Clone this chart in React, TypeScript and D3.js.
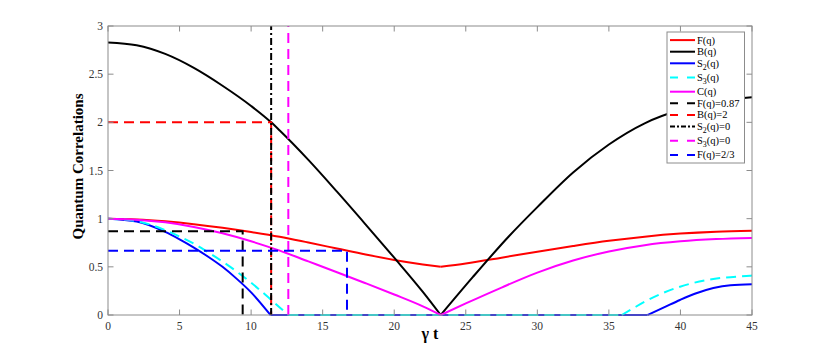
import React from 'react';
import * as d3 from 'd3';

const W = 830;
const H = 354;

const xTicks = [0, 5, 10, 15, 20, 25, 30, 35, 40, 45];
const yTicks = [0, 0.5, 1, 1.5, 2, 2.5, 3];

// F(q)
const fT = [0, 2, 4, 6, 8, 10, 12, 14, 16, 18, 20, 22, 23.25, 25, 27.5, 30, 32.5, 35, 37.5, 40, 42.5, 45];
const fV = [1, 0.992, 0.972, 0.943, 0.906, 0.862, 0.812, 0.752, 0.69, 0.628, 0.572, 0.525, 0.5, 0.535, 0.595, 0.657, 0.716, 0.77, 0.813, 0.845, 0.865, 0.875];
// B(q)
const bT = [0, 2, 4, 6, 8, 10, 11.4, 12, 14, 16, 18, 20, 22, 23.25, 25.5, 28, 30, 32.5, 35, 37.5, 40, 42.5, 45];
const bV = [2.83, 2.8, 2.71, 2.565, 2.38, 2.17, 2.0, 1.915, 1.61, 1.28, 0.94, 0.595, 0.24, 0, 0.395, 0.815, 1.12, 1.48, 1.77, 1.99, 2.13, 2.215, 2.26];
// S2(q)
const s2T = [0, 2, 4, 5, 6, 7, 8, 9, 10, 11.35, 37.7, 39, 39.97, 41, 42.3, 43.5, 45];
const s2V = [1, 0.97, 0.862, 0.785, 0.7, 0.605, 0.5, 0.375, 0.235, 0, 0, 0.09, 0.156, 0.22, 0.28, 0.31, 0.32];
// S3(q)
const s3T = [0, 2, 4, 5, 6, 7, 8, 9, 10, 11, 12, 12.6, 35.9, 36.7, 37.64, 39.97, 42.3, 44.86, 45];
const s3V = [1, 0.975, 0.88, 0.815, 0.74, 0.65, 0.555, 0.45, 0.335, 0.21, 0.078, 0, 0, 0.07, 0.149, 0.294, 0.374, 0.408, 0.41];
// C(q)
const cT = [0, 2, 4, 6, 8, 10, 12, 14, 16, 18, 20, 22, 23.25, 25, 27.5, 30, 32.5, 35, 37.5, 40, 42.5, 45];
const cV = [1, 0.99, 0.962, 0.914, 0.848, 0.765, 0.668, 0.556, 0.444, 0.33, 0.213, 0.09, 0, 0.12, 0.285, 0.44, 0.565, 0.66, 0.725, 0.765, 0.788, 0.8];

// reference lines
const refF87T = [0, 9.41, 9.41];
const refF87V = [0.87, 0.87, 0];
const refB2T = [0, 11.4, 11.4];
const refB2V = [2, 2, 0];
const refS2T = [11.4, 11.4];
const refS2V = [0, 3];
const refS3T = [12.6, 12.6];
const refS3V = [0, 3];
const refF23T = [0, 16.7, 16.7];
const refF23V = [2 / 3, 2 / 3, 0];

const DASH = '10,6';
const DASHDOT = '7,3,2,3';

const series = [
  { label: 'F(q)', t: fT, v: fV, kinks: [23.25], color: '#ff0000', dash: null, curve: true },
  { label: 'B(q)', t: bT, v: bV, kinks: [23.25], color: '#000000', dash: null, curve: true },
  { label: 'S|2|(q)', t: s2T, v: s2V, kinks: [11.35, 37.7], color: '#0000ff', dash: null, curve: true },
  { label: 'S|3|(q)', t: s3T, v: s3V, kinks: [12.6, 35.9], color: '#00ffff', dash: DASH, curve: true },
  { label: 'C(q)', t: cT, v: cV, kinks: [23.25], color: '#ff00ff', dash: null, curve: true },
  { label: 'F(q)=0.87', t: refF87T, v: refF87V, kinks: [], color: '#000000', dash: DASH, curve: false },
  { label: 'B(q)=2', t: refB2T, v: refB2V, kinks: [], color: '#ff0000', dash: DASH, curve: false },
  { label: 'S|2|(q)=0', t: refS2T, v: refS2V, kinks: [], color: '#000000', dash: DASHDOT, curve: false },
  { label: 'S|3|(q)=0', t: refS3T, v: refS3V, kinks: [], color: '#ff00ff', dash: DASH, curve: false },
  { label: 'F(q)=2/3', t: refF23T, v: refF23V, kinks: [], color: '#0000ff', dash: DASH, curve: false },
];

function splitAt(t: number[], v: number[], kinks: number[]) {
  const segs: [number, number][][] = [];
  let cur: [number, number][] = [];
  t.forEach((tt, i) => {
    cur.push([tt, v[i]]);
    if (kinks.includes(tt) && i > 0 && i < t.length - 1) {
      segs.push(cur);
      cur = [[tt, v[i]]];
    }
  });
  segs.push(cur);
  return segs;
}

function Label({ text, x, y, size }: { text: string; x: number; y: number; size: number }) {
  const parts = text.split('|');
  return (
    <text x={x} y={y} fontSize={size} fontFamily="Liberation Serif, Times New Roman, serif" fill="#000">
      {parts.map((p, i) =>
        i % 2 === 1 ? (
          <tspan key={i} fontSize={size * 0.75} dy={3}>{p}</tspan>
        ) : (
          <tspan key={i} dy={i > 0 ? -3 : 0}>{p}</tspan>
        )
      )}
    </text>
  );
}

export default function App() {
  const x = d3.scaleLinear().domain([0, 45]).range([108, 752]);
  const y = d3.scaleLinear().domain([0, 3]).range([315, 26]);
  const axisColor = '#8c8c8c';
  const tickColor = '#333';
  const font = 'Liberation Serif, Times New Roman, serif';

  const line = (smooth: boolean) =>
    d3
      .line<[number, number]>()
      .x((d) => x(d[0]))
      .y((d) => y(d[1]))
      .curve(smooth ? d3.curveMonotoneX : d3.curveLinear);

  const [x0, x1] = x.range();
  const [y0, y1] = y.range();
  const tl = 5.5;

  // legend layout
  const lgX = 667;
  const lgY = 32;
  const lgW = 77.5;
  const rowH = series.map((s) => (s.label.includes('|') ? 14.2 : 11.6));
  const lgH = d3.sum(rowH) + 4.6;
  const rowY = rowH.map((h, i) => lgY + 2.3 + d3.sum(rowH.slice(0, i)) + h / 2 - (h > 12 ? 1.3 : 0));

  return (
    <svg width={W} height={H} style={{ position: 'absolute', left: 0, top: 0, background: '#fff' }}>
      <rect x={x0} y={y1} width={x1 - x0} height={y0 - y1} fill="#fff" stroke="none" />

      {/* data */}
      {series.map((s, i) =>
        splitAt(s.t, s.v, s.kinks).map((seg, j) => (
          <path
            key={`${i}-${j}`}
            d={line(s.curve)(seg) || ''}
            fill="none"
            stroke={s.color}
            strokeWidth={2}
            strokeDasharray={s.dash || undefined}
          />
        ))
      )}

      {/* box & ticks */}
      <rect x={x0} y={y1} width={x1 - x0} height={y0 - y1} fill="none" stroke={axisColor} strokeWidth={1} />
      {xTicks.map((t) => (
        <g key={`xt${t}`}>
          <line x1={x(t)} x2={x(t)} y1={y0} y2={y0 - tl} stroke={axisColor} />
          <line x1={x(t)} x2={x(t)} y1={y1} y2={y1 + tl} stroke={axisColor} />
          <text x={x(t)} y={y0 + 15} textAnchor="middle" fontSize={11.5} fontFamily={font} fill={tickColor}>
            {t}
          </text>
        </g>
      ))}
      {yTicks.map((t) => (
        <g key={`yt${t}`}>
          <line x1={x0} x2={x0 + tl} y1={y(t)} y2={y(t)} stroke={axisColor} />
          <line x1={x1} x2={x1 - tl} y1={y(t)} y2={y(t)} stroke={axisColor} />
          <text x={x0 - 5} y={y(t) + 4} textAnchor="end" fontSize={11.5} fontFamily={font} fill={tickColor}>
            {t}
          </text>
        </g>
      ))}

      {/* axis labels */}
      <text x={(x0 + x1) / 2} y={339} textAnchor="middle" fontSize={16} fontWeight="bold" fontFamily={font}>
        γ t
      </text>
      <text
        transform={`translate(83, ${(y0 + y1) / 2 - 4}) rotate(-90)`}
        textAnchor="middle"
        fontSize={15}
        fontWeight="bold"
        fontFamily={font}
      >
        Quantum Correlations
      </text>

      {/* legend */}
      <rect x={lgX} y={lgY} width={lgW} height={lgH} fill="#fff" stroke={axisColor} strokeWidth={1} />
      {series.map((s, i) => (
        <g key={`lg${i}`}>
          <line
            x1={lgX + 3}
            x2={lgX + 28}
            y1={rowY[i]}
            y2={rowY[i]}
            stroke={s.color}
            strokeWidth={2}
            strokeDasharray={s.dash ? (s.dash === DASHDOT ? '5,2,2,2' : '8,9') : undefined}
          />
          <Label text={s.label} x={lgX + 30} y={rowY[i] + 3.5} size={10.5} />
        </g>
      ))}
    </svg>
  );
}
